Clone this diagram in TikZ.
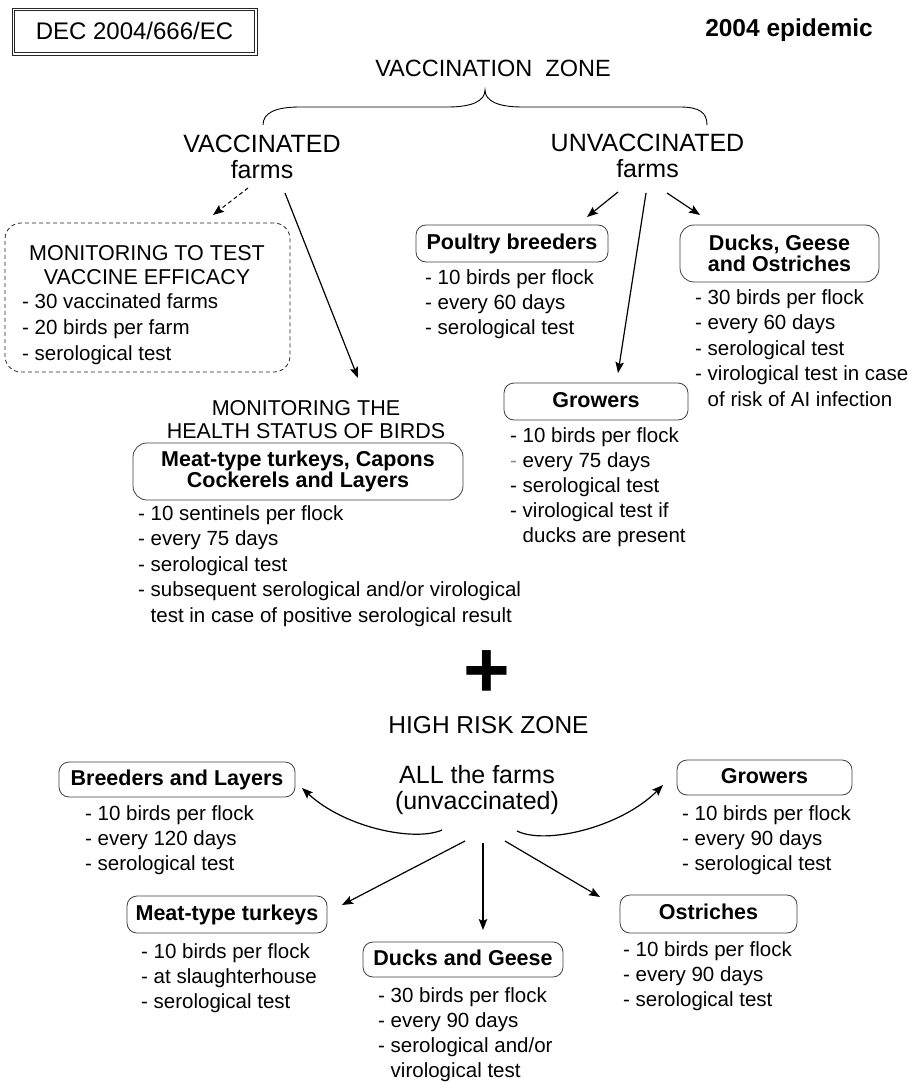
\documentclass[tikz,border=0pt]{standalone}
\usepackage{fontspec}
\setmainfont{Liberation Sans}
\usetikzlibrary{arrows.meta}
\newcommand\setfs[2]{\fontsize{#1}{#2}\selectfont}

\begin{document}
\begin{tikzpicture}[x=1pt,y=-1pt,
  arr/.style={line width=1.2pt, -{Stealth[length=11pt,width=8.5pt,inset=2pt]}},
  box/.style={draw=black!75, line width=0.8pt, rounded corners=10pt, inner sep=0pt,
              align=center, font=\bfseries\setfs{21.5}{21.5}},
  onebox/.style={box, text height=15.5pt, text depth=4.5pt},
  items/.style={anchor=north west, inner sep=0pt, align=left, font=\setfs{20.5}{25}},
  title/.style={inner sep=0pt, align=center},
]
\fill[white] (0,0) rectangle (912,1083);
\useasboundingbox (0,0) rectangle (912,1083);

% ---------- header ----------
\node[draw=black!85, line width=0.8pt, minimum width=245pt, minimum height=47pt, inner sep=0pt,
      text height=17pt, text depth=0pt, font=\setfs{24}{24}] (dec) at (134.5,31.5) {DEC 2004/666/EC};
\draw[black!85, line width=0.8pt] ([shift={(3,3)}]dec.north west) rectangle ([shift={(-3,-3)}]dec.south east);
\node[title, anchor=base, font=\bfseries\setfs{24.5}{24}] (epi) at (789,37) {2004 epidemic};

% ---------- vaccination zone ----------
\node[title, anchor=base, font=\setfs{23.5}{24}] (vzone) at (493,77) {VACCINATION\ \ ZONE};
\draw[line width=0.9pt] (263,125) .. controls (263,113) and (275,107) .. (300,107)
  -- (448,107) .. controls (472,107) and (485,101) .. (485,90)
  .. controls (485,101) and (498,107) .. (522,107)
  -- (680,107) .. controls (700,107) and (707,113) .. (707,125);

\node[title, anchor=north, font=\setfs{25}{25}] (vacc) at (262,134.5) {\strut VACCINATED\\farms};
\node[title, anchor=north, font=\setfs{25}{25}] (unvacc) at (647.5,133.5) {\strut UNVACCINATED\\farms};

% vaccinated farms: efficacy monitoring
\node[draw=black!85, line width=0.8pt, dash pattern=on 4pt off 3pt, rounded corners=16pt,
      minimum width=285pt, minimum height=149pt, inner sep=0pt] (mbox) at (147.5,297.5) {};
\node[title, anchor=north, font=\setfs{21.5}{24}] (mhead) at (147,243.2)
  {\strut MONITORING TO TEST\\VACCINE EFFICACY};
\node[items, font=\setfs{20.5}{26}] (mitems) at (22,289.8)
  {\strut - 30 vaccinated farms\\- 20 birds per farm\\- serological test};

% vaccinated farms: health status
\node[title, anchor=north, font=\setfs{21.5}{23}] (health) at (306,398.9)
  {\strut MONITORING THE\\HEALTH STATUS OF BIRDS};
\node[box, rounded corners=14pt, minimum width=330pt, minimum height=57pt] (meatA) at (298,471.5)
  {Meat-type turkeys, Capons\\Cockerels and Layers};
\node[items, font=\setfs{20.5}{25.5}] (meatAi) at (138,502.15)
  {\strut - 10 sentinels per flock\\- every 75 days\\- serological test\\- subsequent serological and/or virological\\\hphantom{- }test in case of positive serological result};

\coordinate (va1) at (248,188); \coordinate (va2) at (213,215);
\coordinate (vb1) at (285,193); \coordinate (vb2) at (358,378);
\draw[arr, line width=1pt, dash pattern=on 4pt off 3pt] (va1) -- (va2);
\draw[arr] (vb1) -- (vb2);

% unvaccinated farms
\node[onebox, minimum width=192pt, minimum height=37pt] (poultry) at (512,243.5) {Poultry breeders};
\node[items] (poultryi) at (425,266.5)
  {\strut - 10 birds per flock\\- every 60 days\\- serological test};

\node[box, rounded corners=14pt, minimum width=199pt, minimum height=57pt] (ducksA) at (779.5,253.5)
  {Ducks, Geese\\and Ostriches};
\node[items, font=\setfs{20.5}{25.5}] (ducksAi) at (695,286.15)
  {\strut - 30 birds per flock\\- every 60 days\\- serological test\\- virological test in case\\\hphantom{- }of risk of AI infection};

\node[onebox, minimum width=184pt, minimum height=37pt] (growA) at (596,401.5) {Growers};
\node[items] (growAi) at (510,424.5)
  {\strut - 10 birds per flock\\{\color{black!45}-} every 75 days\\- serological test\\- virological test if\\\hphantom{- }ducks are present};

\coordinate (ua1) at (618,192); \coordinate (ua2) at (587,217);
\coordinate (ub1) at (646,193); \coordinate (ub2) at (618,373);
\coordinate (uc1) at (667,193); \coordinate (uc2) at (700,215);
\draw[arr] (ua1) -- (ua2);
\draw[arr] (ub1) -- (ub2);
\draw[arr] (uc1) -- (uc2);

% ---------- plus ----------
\node[inner sep=0pt, anchor=base, font=\bfseries\setfs{80}{80}] (plus) at (487,697) {+};

% ---------- high risk zone ----------
\node[title, anchor=base, font=\setfs{24.5}{25}] (hrz) at (488.5,733) {HIGH RISK ZONE};
\node[title, anchor=north, font=\setfs{25}{24}] (all) at (477,765.2) {\strut ALL the farms\\(unvaccinated)};

\node[onebox, minimum width=236pt, minimum height=35pt] (breed) at (177,779.5) {Breeders and Layers};
\node[items] (breedi) at (85,802.5)
  {\strut - 10 birds per flock\\- every 120 days\\- serological test};

\node[onebox, minimum width=175pt, minimum height=35pt] (growB) at (764.5,777.5) {Growers};
\node[items] (growBi) at (682,802.5)
  {\strut - 10 birds per flock\\- every 90 days\\- serological test};

\node[onebox, minimum width=200pt, minimum height=37pt] (meatB) at (227,914.5) {Meat-type turkeys};
\node[items] (meatBi) at (141,940.5)
  {\strut - 10 birds per flock\\- at slaughterhouse\\- serological test};

\node[onebox, minimum width=200pt, minimum height=35pt] (ducksB) at (463,959.5) {Ducks and Geese};
\node[items] (ducksBi) at (378,984.5)
  {\strut - 30 birds per flock\\- every 90 days\\- serological and/or\\\hphantom{- }virological test};

\node[onebox, minimum width=177pt, minimum height=38pt] (ostr) at (708.5,914) {Ostriches};
\node[items] (ostri) at (623,938.5)
  {\strut - 10 birds per flock\\- every 90 days\\- serological test};

\coordinate (ha1) at (442,830); \coordinate (ha2) at (302,788);
\coordinate (hb1) at (517,831); \coordinate (hb2) at (663,785);
\coordinate (hc1) at (465,841); \coordinate (hc2) at (342,905);
\coordinate (hd1) at (483,843); \coordinate (hd2) at (483,930);
\coordinate (he1) at (505,841); \coordinate (he2) at (600,897);
\draw[arr] (ha1) .. controls (415,842) and (345,828) .. (ha2);
\draw[arr] (hb1) .. controls (545,845) and (620,828) .. (hb2);
\draw[arr] (hc1) -- (hc2);
\draw[arr] (hd1) -- (hd2);
\draw[arr] (he1) -- (he2);
\end{tikzpicture}
\end{document}
